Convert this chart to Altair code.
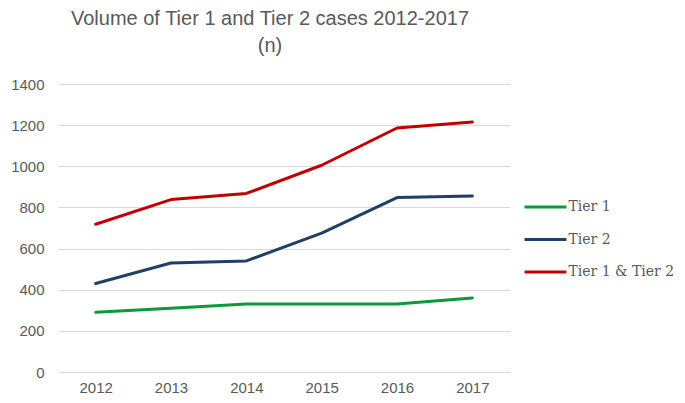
import altair as alt
import pandas as pd

years = ["2012", "2013", "2014", "2015", "2016", "2017"]
tier1 = [290, 310, 330, 330, 330, 360]
tier2 = [430, 530, 540, 675, 848, 855]
both = [718, 838, 868, 1005, 1186, 1215]
series_names = ["Tier 1", "Tier 2", "Tier 1 & Tier 2"]
series_colors = ["#0A9A3C", "#1F3F66", "#C00000"]

rows = []
for name, vals in zip(series_names, [tier1, tier2, both]):
    for y, v in zip(years, vals):
        rows.append({"year": y, "value": v, "series": name})
df = pd.DataFrame(rows)

chart = alt.Chart(df).mark_line(strokeWidth=3, strokeCap="round", strokeJoin="round").encode(
    x=alt.X("year:N", sort=years, title=None,
            scale=alt.Scale(type="point", padding=0.5),
            axis=alt.Axis(labelAngle=0, ticks=False, domain=False, grid=False,
                          labelFont="Liberation Sans", labelFontSize=15, labelColor="#595959",
                          labelPadding=8)),
    y=alt.Y("value:Q", title=None,
            scale=alt.Scale(domain=[0, 1400], nice=False),
            axis=alt.Axis(values=[0, 200, 400, 600, 800, 1000, 1200, 1400], format="d",
                          ticks=False, domain=False,
                          gridColor="#D9D9D9", gridWidth=1,
                          labelFont="Liberation Sans", labelFontSize=15, labelColor="#595959",
                          labelPadding=14)),
    color=alt.Color("series:N", sort=series_names,
                    scale=alt.Scale(domain=series_names, range=series_colors),
                    legend=alt.Legend(title=None, orient="none", legendX=469.5, legendY=105,
                                      symbolType="M-1.27,0H1.27", symbolSize=1089, symbolStrokeWidth=3,
                                      rowPadding=7.5, labelOffset=5,
                                      labelFont="DejaVu Serif", labelFontSize=14, labelColor="#595959")),
).properties(
    width=452, height=288,
    autosize=alt.AutoSizeParams(type="none"),
    padding={"left": 50, "top": 76, "right": 167, "bottom": 23},
    title=alt.TitleParams(text=["Volume of Tier 1 and Tier 2 cases 2012-2017", "(n)"],
                          font="Liberation Sans", fontSize=20, fontWeight="normal", color="#595959",
                          lineHeight=27, anchor="middle", dx=-14, offset=21),
).configure_view(stroke=None)

chart.save("out.html", embed_options={"renderer": "svg", "actions": False})
